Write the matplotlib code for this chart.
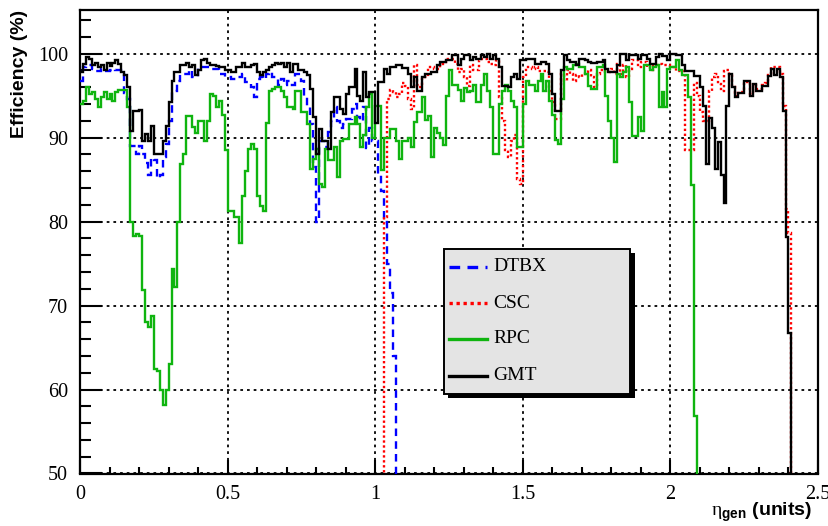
import numpy as np
import matplotlib
matplotlib.use("Agg")
import matplotlib.pyplot as plt
from matplotlib.patches import Rectangle
from matplotlib.lines import Line2D

plt.rcParams['mathtext.fontset'] = 'custom'
plt.rcParams['mathtext.rm'] = 'Liberation Serif'
plt.rcParams['mathtext.bf'] = 'Liberation Sans:bold'

# efficiency per eta bin (bin width 0.01), trailing 0 closes the histogram
bin_width = 0.01

dtbx_start = 0.00
dtbx_eff = [
    96.8, 98.4, 98.6, 98.6, 98.2, 97.9, 97.9, 98.2, 97.9, 97.9,
    98.0, 98.2, 98.0, 98.0, 97.6, 95.3, 94.6, 89.0, 89.0, 88.0,
    89.0, 88.0, 87.0, 85.5, 87.6, 87.3, 85.2, 85.5, 87.7, 89.3,
    92.0, 95.6, 95.6, 96.8, 97.6, 97.6, 97.6, 98.0, 97.2, 97.2,
    98.4, 98.4, 98.4, 98.4, 98.2, 98.2, 98.2, 97.6, 97.6, 97.2,
    97.2, 97.0, 97.0, 97.2, 97.2, 97.6, 96.6, 96.6, 96.0, 94.8,
    97.0, 97.2, 97.0, 97.6, 97.8, 97.2, 97.2, 96.3, 97.0, 96.3,
    96.8, 96.3, 96.3, 97.6, 97.6, 96.8, 95.0, 93.6, 91.6, 86.5,
    80.0, 89.6, 89.6, 88.9, 90.7, 92.0, 93.6, 92.0, 91.2, 91.6,
    92.2, 92.2, 93.4, 94.0, 92.4, 92.0, 93.6, 88.8, 91.2, 89.6,
    89.6, 85.7, 83.7, 80.0, 75.0, 71.5, 64.0, 0.0,
]

csc_start = 1.02
csc_eff = [
    0.0, 80.5, 94.6, 95.7, 95.4, 94.8, 95.2, 96.5, 96.2, 94.6,
    93.4, 98.6, 96.3, 96.0, 97.2, 97.2, 98.4, 98.4, 98.2, 98.2,
    98.8, 99.0, 99.4, 99.4, 99.4, 98.8, 97.8, 98.2, 97.2, 96.2,
    98.6, 98.0, 98.0, 99.2, 99.4, 99.4, 99.0, 98.8, 98.6, 99.2,
    94.8, 92.0, 88.5, 87.7, 89.6, 90.3, 85.1, 84.5, 97.2, 98.4,
    98.4, 98.2, 98.4, 97.9, 97.9, 97.9, 97.8, 95.5, 94.2, 92.2,
    92.2, 97.6, 96.8, 98.0, 97.6, 96.8, 97.4, 97.2, 97.6, 97.8,
    98.0, 97.2, 96.0, 97.6, 98.0, 98.0, 97.8, 97.8, 98.2, 97.6,
    98.8, 97.6, 98.6, 97.2, 98.2, 99.2, 99.2, 98.4, 99.0, 99.0,
    98.4, 98.0, 98.6, 98.6, 98.8, 98.6, 98.6, 98.6, 98.4, 98.4,
    97.9, 97.9, 97.9, 88.5, 88.5, 88.5, 96.5, 95.0, 93.0, 92.0,
    92.0, 95.6, 97.2, 97.6, 96.4, 95.6, 97.9, 98.0, 97.6, 96.0,
    95.0, 95.3, 95.4, 96.6, 96.6, 95.2, 96.3, 95.8, 95.8, 96.3,
    96.5, 97.5, 98.4, 98.4, 98.4, 97.6, 93.8, 81.5, 78.6, 0.0,
]

rpc_start = 0.00
rpc_eff = [
    94.0, 94.4, 96.0, 95.2, 95.4, 94.6, 93.6, 94.8, 95.4, 94.6,
    95.2, 94.4, 95.4, 95.7, 95.7, 95.7, 93.6, 79.9, 78.3, 78.5,
    78.3, 71.8, 68.0, 67.4, 68.7, 62.5, 62.2, 59.9, 58.1, 59.9,
    63.1, 74.4, 72.2, 79.9, 86.9, 88.0, 92.6, 92.6, 91.3, 90.5,
    92.0, 92.0, 89.6, 92.0, 95.2, 95.0, 93.7, 94.4, 92.7, 88.5,
    81.3, 81.3, 80.6, 80.6, 77.4, 83.1, 86.0, 88.7, 89.3, 88.7,
    83.1, 81.9, 81.3, 91.7, 95.6, 95.8, 96.0, 96.0, 95.6, 94.8,
    93.6, 93.6, 93.4, 95.6, 95.6, 93.0, 93.0, 91.6, 86.3, 87.5,
    88.7, 84.5, 84.1, 88.6, 87.3, 87.3, 88.9, 85.3, 89.6, 89.8,
    89.8, 91.6, 91.6, 92.4, 91.6, 88.9, 90.3, 93.6, 95.2, 90.0,
    93.8, 93.8, 86.1, 90.0, 90.0, 91.0, 91.0, 89.6, 87.4, 89.6,
    89.6, 90.0, 88.9, 91.9, 93.1, 93.1, 94.8, 92.1, 92.6, 87.7,
    91.2, 90.5, 90.0, 89.1, 95.0, 98.0, 96.3, 96.3, 95.7, 94.4,
    95.9, 95.4, 95.6, 96.3, 94.3, 94.3, 96.3, 97.6, 95.6, 93.6,
    88.1, 88.1, 94.0, 95.6, 96.3, 95.6, 94.4, 93.6, 88.9, 88.9,
    94.0, 96.8, 96.3, 96.3, 95.6, 96.8, 97.6, 95.6, 96.8, 94.4,
    92.7, 89.7, 89.3, 94.6, 98.4, 98.2, 98.2, 98.6, 98.8, 98.4,
    98.4, 97.6, 96.2, 95.8, 95.8, 98.4, 98.4, 98.6, 95.0, 92.0,
    90.0, 87.1, 97.6, 97.2, 97.8, 98.4, 94.2, 90.2, 90.2, 92.4,
    90.8, 98.6, 98.6, 98.0, 98.4, 98.6, 93.6, 95.4, 93.6, 98.2,
    98.4, 98.4, 99.2, 98.0, 97.4, 97.4, 94.8, 84.3, 56.9, 0.0,
]

gmt_start = 0.00
gmt_eff = [
    97.8, 98.8, 99.6, 99.4, 98.7, 98.9, 98.4, 98.6, 98.1, 98.9,
    98.5, 98.9, 99.2, 98.8, 97.8, 97.4, 96.0, 90.8, 93.2, 93.2,
    93.3, 89.6, 90.4, 89.6, 91.4, 88.1, 88.1, 88.1, 89.6, 91.4,
    94.3, 96.8, 97.8, 97.8, 98.7, 98.7, 98.9, 98.4, 98.6, 97.4,
    98.0, 99.2, 99.4, 98.9, 98.7, 98.7, 98.5, 98.4, 98.4, 98.1,
    98.0, 97.8, 97.8, 98.4, 98.4, 98.9, 98.4, 98.4, 98.6, 98.8,
    97.8, 97.4, 97.8, 98.0, 98.4, 98.6, 98.9, 98.8, 98.9, 98.4,
    98.9, 97.8, 98.8, 98.8, 98.0, 98.0, 97.8, 97.4, 95.8, 92.4,
    88.1, 91.0, 89.6, 89.6, 88.6, 93.0, 94.8, 94.8, 93.4, 92.8,
    95.2, 96.0, 96.0, 98.2, 95.0, 94.4, 97.8, 94.8, 95.4, 95.4,
    91.8, 96.6, 96.6, 98.2, 97.6, 98.4, 98.4, 98.6, 98.6, 98.3,
    98.3, 97.6, 96.0, 97.2, 95.6, 95.6, 97.2, 97.6, 97.6, 97.8,
    97.8, 98.6, 99.0, 99.0, 99.2, 99.2, 99.8, 99.8, 98.6, 99.4,
    99.8, 99.8, 99.2, 99.6, 99.4, 99.4, 99.8, 99.6, 100.0, 99.4,
    99.8, 99.4, 98.4, 96.2, 96.2, 96.0, 97.2, 97.6, 97.0, 99.2,
    99.2, 99.4, 99.4, 99.4, 98.8, 98.8, 99.0, 99.0, 98.8, 97.6,
    95.2, 93.2, 93.2, 98.0, 99.8, 99.2, 99.0, 99.0, 98.7, 99.4,
    99.4, 99.2, 99.0, 98.9, 98.9, 99.0, 99.0, 99.2, 98.2, 97.8,
    97.8, 97.8, 98.6, 100.0, 100.0, 99.2, 99.8, 99.8, 99.8, 99.4,
    99.8, 99.8, 99.4, 98.8, 98.8, 99.6, 100.0, 99.7, 99.7, 99.2,
    100.0, 100.0, 99.8, 99.8, 98.6, 97.9, 97.9, 97.9, 97.3, 97.3,
    96.0, 93.8, 86.9, 92.3, 91.2, 86.3, 89.5, 85.5, 82.2, 93.8,
    97.6, 96.0, 94.8, 95.3, 95.3, 96.8, 96.8, 95.0, 96.4, 95.6,
    95.6, 96.2, 96.2, 97.3, 98.2, 97.5, 98.2, 97.2, 93.2, 78.2,
    66.7, 0.0,
]

names = ['DTBX', 'CSC', 'RPC', 'GMT']
colors = ['#0000ff', '#ff0000', '#0fb40f', '#000000']
styles = [(0, (3.2, 2.2)), (0, (1.0, 1.1)), '-', '-']
series = [(dtbx_start, dtbx_eff), (csc_start, csc_eff),
          (rpc_start, rpc_eff), (gmt_start, gmt_eff)]

W, H = 829, 526
fig = plt.figure(figsize=(W / 100, H / 100), dpi=100)
ax = fig.add_axes([80 / W, 52.5 / H, 738 / W, 463.5 / H])

for (start, vals), name, c, ls in zip(series, names, colors, styles):
    vals = np.asarray(vals)
    edges = start + bin_width * np.arange(len(vals) + 1)
    ax.stairs(vals, edges, baseline=None, color=c, linestyle=ls,
              linewidth=1.7, zorder=3)

ax.set_xlim(0, 2.5)
ax.set_ylim(50, 105.2)

ax.set_xticks(np.arange(0, 2.51, 0.5))
ax.set_xticks(np.arange(0, 2.51, 0.1), minor=True)
ax.set_xticklabels(['0', '0.5', '1', '1.5', '2', '2.5'])
ax.set_yticks(np.arange(50, 101, 10))
ax.set_yticks(np.arange(50, 105, 2), minor=True)

ax.tick_params(axis='y', which='major', direction='in', length=16,
               width=1.5, pad=8.5, labelsize=14.5)
ax.tick_params(axis='y', which='minor', direction='in', length=8, width=1.5)
ax.tick_params(axis='x', which='major', direction='in', length=10,
               width=1.5, pad=8, labelsize=14.5)
ax.tick_params(axis='x', which='minor', direction='in', length=5, width=1.5)
for lab in ax.get_xticklabels() + ax.get_yticklabels():
    lab.set_fontfamily('Liberation Serif')

for sp in ax.spines.values():
    sp.set_linewidth(1.6)

ax.grid(True, which='major', color='black', linestyle=(0, (1.5, 2.2)),
        linewidth=1.3, zorder=1)

# legend box with a solid drop shadow
bx, by, bw, bh = 0.4932, 0.1715, 0.2527, 0.3122
ax.add_patch(Rectangle((bx + 0.0055, by - 0.0088), bw, bh, transform=ax.transAxes,
                       facecolor='black', edgecolor='none', zorder=5))
ax.add_patch(Rectangle((bx, by), bw, bh, transform=ax.transAxes,
                       facecolor='#e4e4e4', edgecolor='black', linewidth=1.4,
                       zorder=6))
entry_y = [0.4462, 0.3672, 0.2902, 0.2104]
for yy, name, c, ls in zip(entry_y, names, colors, styles):
    ax.add_line(Line2D([0.500, 0.5515], [yy, yy], transform=ax.transAxes,
                       color=c, linestyle=ls, linewidth=2.4, zorder=7))
    ax.text(0.5596, yy, name, transform=ax.transAxes, ha='left', va='center',
            fontsize=14, fontfamily='Liberation Serif', zorder=7)

fig.text(20 / W, 1 - 10 / H, 'Efficiency (%)', rotation=90, ha='center',
         va='top', fontsize=14, fontweight='bold', fontfamily='Liberation Sans')
fig.text(812 / W, 1 - 512 / H, r'$\mathrm{\eta}_{\mathbf{gen}}$ (units)',
         ha='right', va='center', fontsize=14, fontweight='bold',
         fontfamily='Liberation Sans')

fig.savefig('out.png', dpi=100)
